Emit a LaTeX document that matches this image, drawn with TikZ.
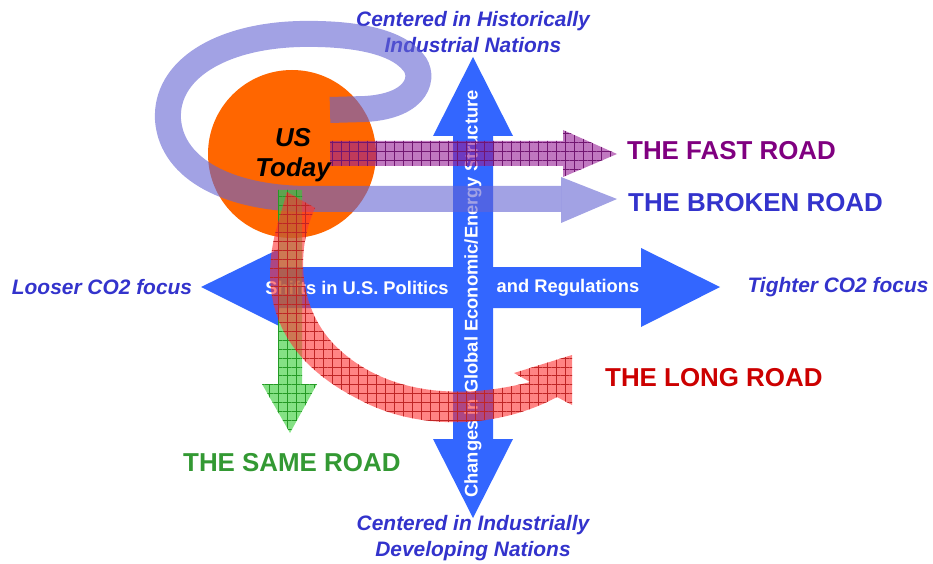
\documentclass[tikz,border=0pt]{standalone}
\usepackage{fontspec}
\setmainfont{Liberation Sans}
\usetikzlibrary{patterns.meta}
\definecolor{crossblue}{RGB}{51,102,255}
\definecolor{lblblue}{RGB}{51,51,204}
\definecolor{fastc}{RGB}{128,0,128}
\definecolor{longc}{RGB}{204,0,0}
\definecolor{samec}{RGB}{51,153,51}
\definecolor{usorange}{RGB}{255,102,0}
\definecolor{loopc}{RGB}{100,100,210}
\definecolor{purpc}{RGB}{150,30,150}
\definecolor{greenc}{RGB}{50,205,50}
\definecolor{redc}{RGB}{255,50,50}
\begin{document}
\begin{tikzpicture}[x=1bp,y=-1bp,
  lbl/.style={font=\fontsize{21}{26}\selectfont\bfseries\itshape, text=lblblue, inner sep=0pt, align=center},
  roadlbl/.style={font=\fontsize{26}{30}\selectfont\bfseries, inner sep=0pt, anchor=west},
  innertext/.style={font=\fontsize{18.4}{20}\selectfont\bfseries, text=white, inner sep=0pt},
  band/.style={fill=#1, fill opacity=0.6, draw=none,
    postaction={pattern={Hatch[angle=0,distance=9pt,line width=0.45pt]}, pattern color=#1!75!black, fill opacity=0.35}},
]
\useasboundingbox (0,0) rectangle (933,564);

% blue cross
\fill[crossblue] (201,287) -- (279,249) -- (279,267) -- (641,267) -- (641,248) -- (720,287)
  -- (641,327) -- (641,308) -- (279,308) -- (279,326) -- cycle;
\fill[crossblue] (473,57) -- (513,136) -- (493,136) -- (493,439) -- (513,439) -- (473,518)
  -- (433,439) -- (453,439) -- (453,136) -- (433,136) -- cycle;
\node[innertext, rotate=90] (vt) at (473,294) {Changes in Global Economic/Energy Structure};
\node[innertext] (ht1) at (357,288) {Shifts in U.S. Politics};
\node[innertext] (ht2) at (568,288) {and Regulations};

% axis labels
\node[lbl] (loose) at (102,287) {Looser CO2 focus};
\node[lbl] (tight) at (838,287) {Tighter CO2 focus};
\node[lbl] (top) at (473,32) {Centered in Historically\\Industrial Nations};
\node[lbl] (bottom) at (473,538) {Centered in Industrially\\Developing Nations};

% US today circle
\node[circle, fill=usorange, minimum size=168bp, inner sep=0pt] (us) at (292,154) {};

% blue loop (broken road)
\draw[loopc, line width=26bp, opacity=0.6, line cap=butt]
  (330,110) -- (365,109) .. controls (420,106) and (425,75) .. (413,62)
  .. controls (395,40) and (350,33) .. (300,34)
  .. controls (220,36) and (165,70) .. (168,120)
  .. controls (172,170) and (230,199) .. (310,199) -- (561,199);
\fill[loopc, fill opacity=0.6] (561,177) -- (617,199) -- (561,223) -- cycle;

% fast road
\fill[band=purpc] (330,141) -- (563,141) -- (563,130) -- (617,154) -- (563,177) -- (563,166) -- (330,166) -- cycle;

% same road
\fill[band=greenc] (278,190) -- (302,190) -- (302,384) -- (317,384) -- (290,433) -- (262,384) -- (278,384) -- cycle;

% long road
\fill[band=redc] (287,192) -- (315,208) .. controls (298,245) and (296,300) .. (330,340)
  .. controls (370,385) and (440,405) .. (530,382) -- (514,373) -- (572,355) -- (572,405) -- (557,397)
  .. controls (500,428) and (420,432) .. (360,400)
  .. controls (280,360) and (258,300) .. (276,230) -- cycle;

\node[font=\fontsize{26}{30}\selectfont\bfseries\itshape, align=center, inner sep=0pt] (ustext) at (293,155) {US\\Today};

% road labels
\node[roadlbl, text=fastc] (fast) at (627,151) {THE FAST ROAD};
\node[roadlbl, text=lblblue] (broken) at (628,203) {THE BROKEN ROAD};
\node[roadlbl, text=longc] (long) at (605,378) {THE LONG ROAD};
\node[roadlbl, text=samec] (same) at (183,463) {THE SAME ROAD};
\end{tikzpicture}
\end{document}
